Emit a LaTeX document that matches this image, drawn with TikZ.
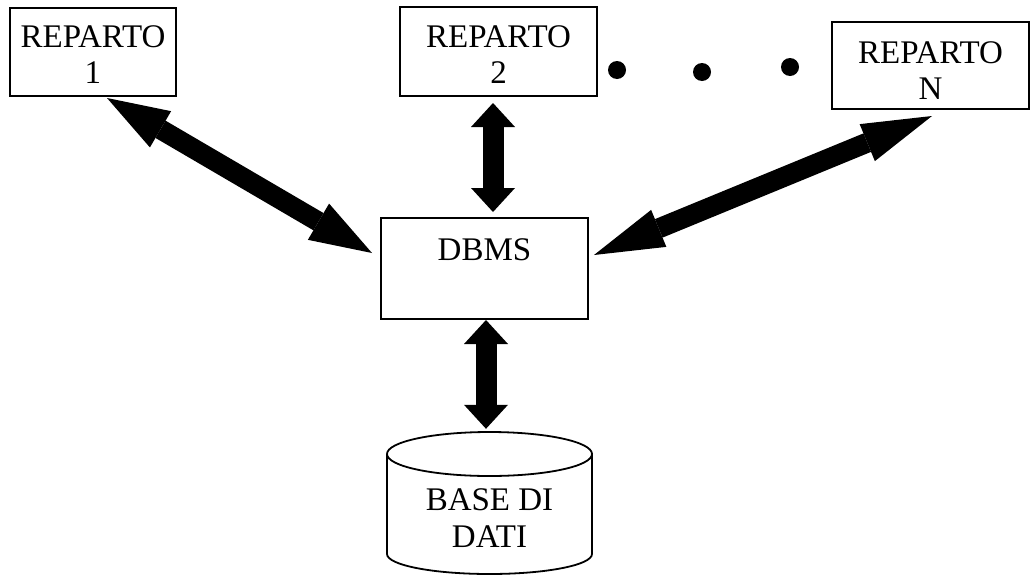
\documentclass[tikz,border=0pt]{standalone}
\usepackage{fontspec}
\setmainfont{Liberation Serif}
\usetikzlibrary{arrows.meta,calc}
% invisible strut that sets the height of a first text line
\newcommand\lift[1]{\rule{0pt}{#1}}
\begin{document}
\begin{tikzpicture}[x=1pt,y=-1pt,
  box/.style={draw, line width=2pt, rectangle, inner sep=0pt, align=center,
              font=\fontsize{33}{36}\selectfont},
  label/.style={inner sep=0pt, align=center, font=\fontsize{33}{37}\selectfont},
  dotnode/.style={circle, fill=black, inner sep=0pt, minimum size=18pt},
  frame/.style={inner sep=0pt, minimum width=205pt, minimum height=144pt},
  cyl/.style={line width=1.8pt},
  vbig/.style={line width=21pt,
    arrows={Triangle[width=44pt,length=24pt,line width=0pt]-Triangle[width=44pt,length=24pt,line width=0pt]}},
  dleft/.style={line width=20pt,
    arrows={Triangle[width=42pt,length=62pt,line width=0pt]-Triangle[width=42pt,length=62pt,line width=0pt]}},
  dright/.style={line width=20pt,
    arrows={Triangle[width=40pt,length=70pt,line width=0pt]-Triangle[width=40pt,length=70pt,line width=0pt]}}
]
\useasboundingbox (0,0) rectangle (1031,576);

% departments
\node[box, minimum width=166pt, minimum height=88pt] (r1) at (93,52) {\lift{26pt}REPARTO\\1};
\node[box, minimum width=197pt, minimum height=89pt] (r2) at (498.5,51.5) {\lift{27pt}REPARTO\\2};
\node[box, minimum width=197pt, minimum height=87pt] (rN) at (930.5,65.5) {\lift{31pt}REPARTO\\N};

% ellipsis between department 2 and N
\node[dotnode] (d1) at (617,70) {};
\node[dotnode] (d2) at (702,72) {};
\node[dotnode] (d3) at (790,67) {};

% DBMS
\node[box, minimum width=207pt, minimum height=101pt, text height=23pt, text depth=40pt]
  (dbms) at (484.5,268.5) {DBMS};

% database cylinder
\node[frame] (db) at (489.5,504) {};
\draw[cyl] (489.5,554) ellipse [x radius=102.5, y radius=20];
\fill[white] (387,454) rectangle (592,554);
\draw[cyl] (387,454) -- (387,554) (592,454) -- (592,554);
\draw[cyl, fill=white] (489.5,454) ellipse [x radius=102.5, y radius=22];
\node[label] (dbt) at (489.5,518) {BASE DI\\DATI};

% arrow end points
\coordinate (a1s) at ($(r1.south)+(14,1)$);
\coordinate (a1e) at ($(dbms.west)+(-8,-15.5)$);
\coordinate (a2s) at ($(r2.south)+(-5.5,6)$);
\coordinate (a2e) at ($(dbms.north)+(8.5,-5)$);
\coordinate (a3s) at ($(dbms.south)+(1.5,0)$);
\coordinate (a3e) at ($(db.north)+(-3.5,-3)$);
\coordinate (a4s) at ($(rN.south)+(1.5,6)$);
\coordinate (a4e) at ($(dbms.east)+(5,-13.5)$);

% connectors
\draw[dleft] (a1s) -- (a1e);
\draw[vbig] (a2s) -- (a2e);
\draw[vbig] (a3s) -- (a3e);
\draw[dright] (a4s) -- (a4e);
\end{tikzpicture}
\end{document}
